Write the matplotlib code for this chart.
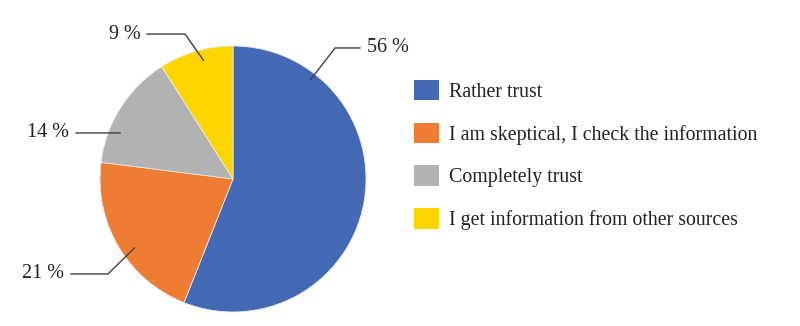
import numpy as np
import matplotlib.pyplot as plt
from matplotlib.patches import Patch

plt.rcParams['font.family'] = ['Liberation Serif', 'DejaVu Serif']

labels = ["Rather trust", "I am skeptical, I check the information",
          "Completely trust", "I get information from other sources"]
values = [56, 21, 14, 9]
colors = ['#4469B4', '#EE7D33', '#B2B2B2', '#FFD500']

# leader layout: anchor angle (deg) / radius inside wedge, elbow, line end, text side
leaders = [
    (52, 0.95, (0.767, 0.985), (0.955, 0.985), 'left'),
    (-145, 0.905, (-0.94, -0.714), (-1.218, -0.714), 'right'),
    (157.8, 0.917, (-0.85, 0.346), (-1.18, 0.346), 'right'),
    (104, 0.92, (-0.361, 1.09), (-0.647, 1.09), 'right'),
]

fig = plt.figure(figsize=(8, 3.26), dpi=100)
ax = fig.add_axes([0.125, 0.043, 0.3325, 0.816])
wedges, _ = ax.pie(values, colors=colors, startangle=90, counterclock=False,
                   radius=1, wedgeprops=dict(edgecolor='#e8e8e8', linewidth=0.6))
ax.set_xlim(-1, 1)
ax.set_ylim(-1, 1)
ax.set_aspect('equal')
ax.axis('off')

for v, (ang, r, elbow, end, side) in zip(values, leaders):
    a = np.deg2rad(ang)
    x0, y0 = r * np.cos(a), r * np.sin(a)
    ax.plot([x0, elbow[0], end[0]], [y0, elbow[1], end[1]], color='#404040',
            lw=1.0, clip_on=False)
    dx = 0.05 if side == 'left' else -0.05
    ax.text(end[0] + dx, end[1], f"{v} %", ha=side, va='center', fontsize=14.5,
            color='#222222', clip_on=False)

handles = [Patch(facecolor=c, edgecolor='none') for c in colors]
fig.legend(handles, labels, loc='upper left', bbox_to_anchor=(414 / 800, 1 - 80 / 326),
           frameon=False, fontsize=14.3, handlelength=1.25, handleheight=1.2,
           handletextpad=0.5, labelspacing=1.05, borderpad=0, borderaxespad=0,
           labelcolor='#222222')

fig.savefig('out.png', dpi=100)
